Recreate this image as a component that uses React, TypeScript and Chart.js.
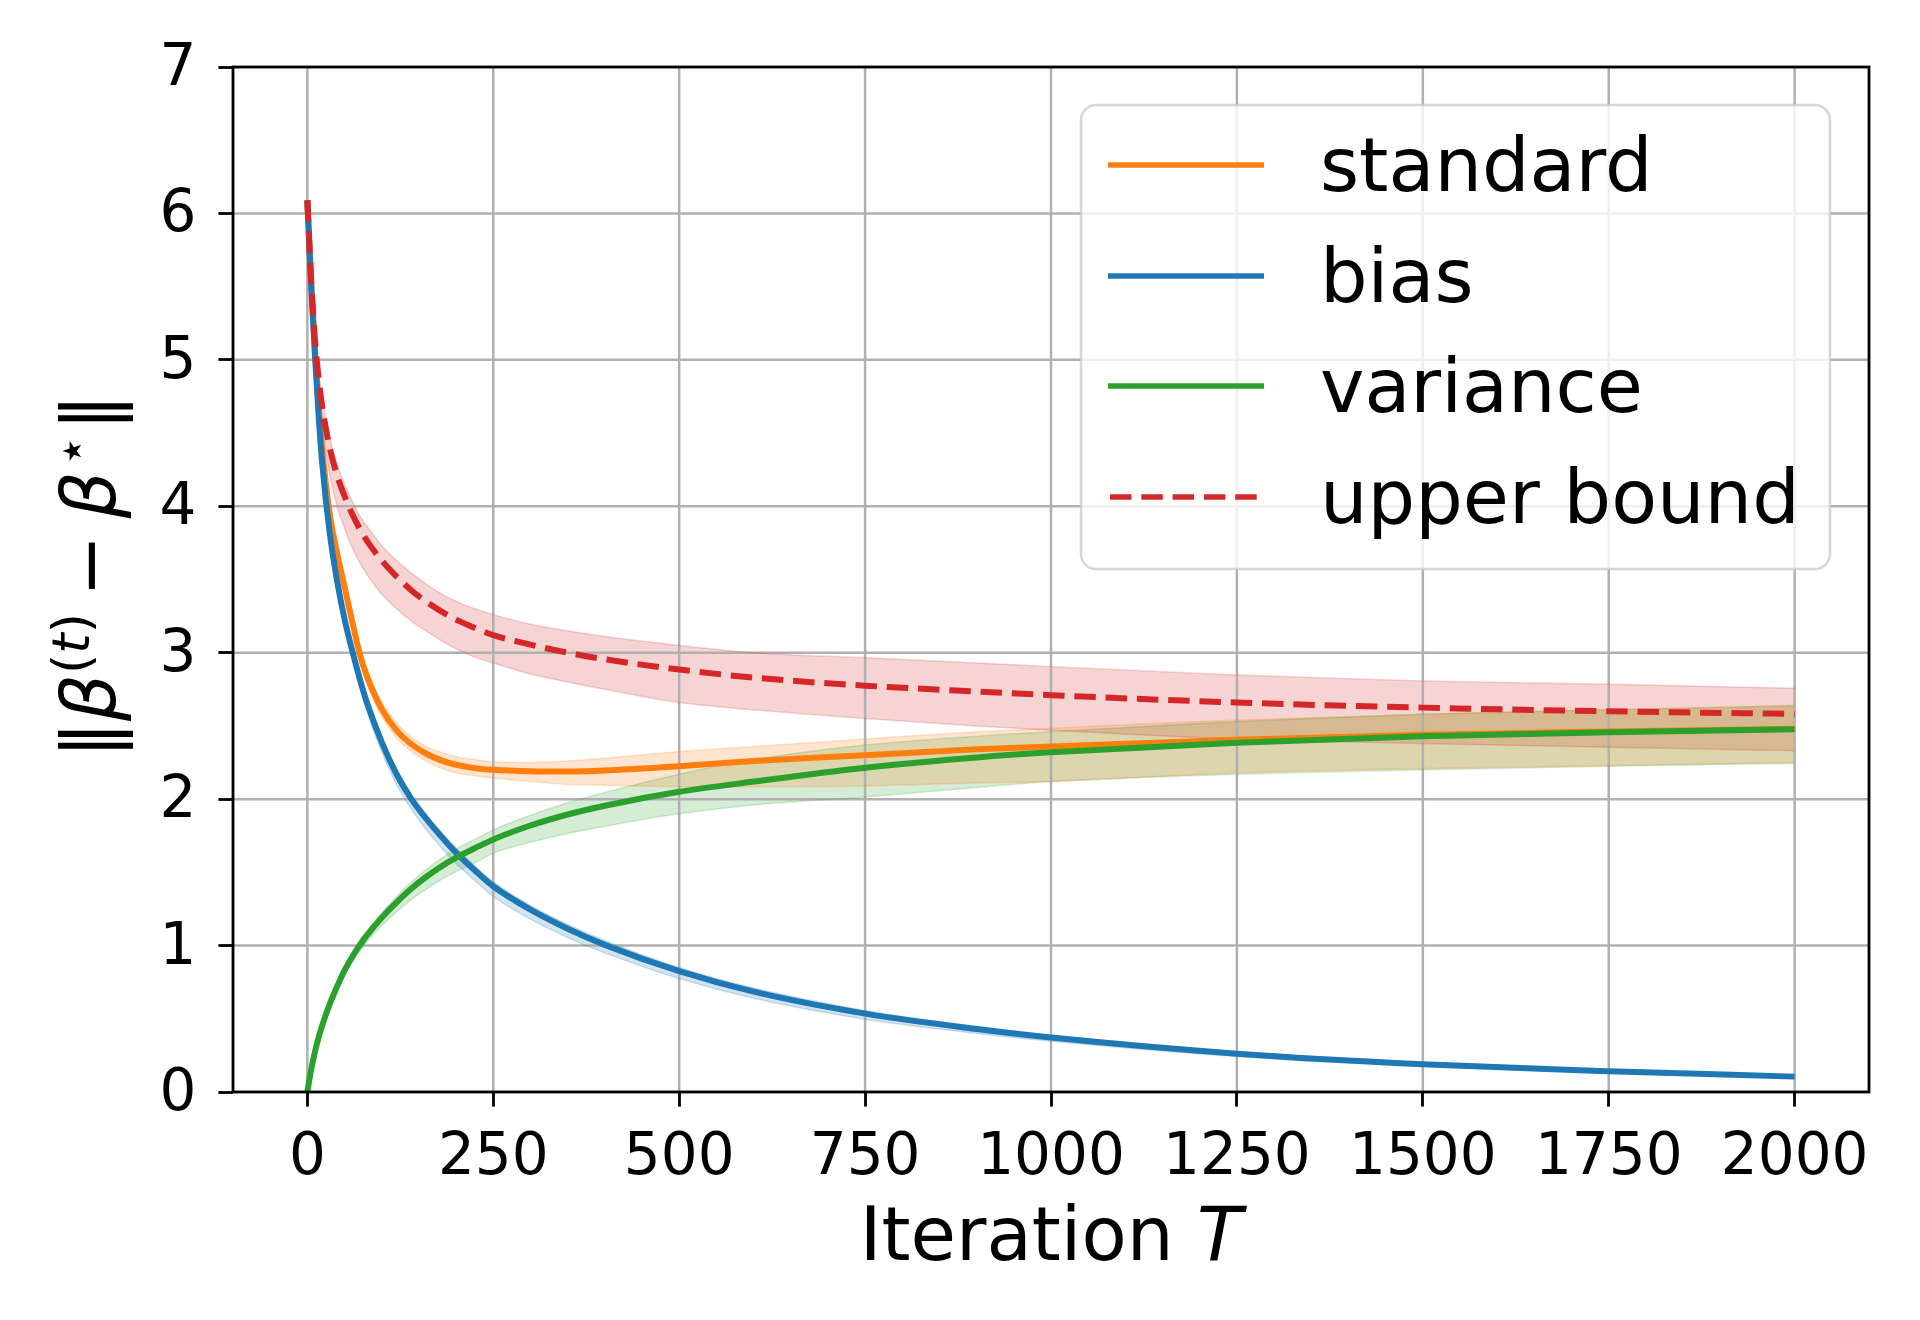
import React, { useEffect, useRef } from "react";
import { Chart, registerables } from "chart.js";

Chart.register(...registerables);

// ---------------- data ----------------
const iterations = [0, 5, 10, 15, 20, 30, 40, 50, 60, 70, 80, 100, 120, 140, 160, 180, 200, 225, 250, 300, 350, 400, 500, 600, 750, 900, 1000, 1250, 1500, 1750, 2000];

const standardMean = [6.09, 5.54, 5.09, 4.7, 4.39, 3.95, 3.68, 3.45, 3.22, 3.0, 2.84, 2.615, 2.47, 2.375, 2.31, 2.265, 2.235, 2.212, 2.2, 2.19, 2.188, 2.195, 2.225, 2.26, 2.3, 2.34, 2.36, 2.405, 2.44, 2.462, 2.48];
const standardUpper = [6.09, 5.56, 5.11, 4.73, 4.42, 3.99, 3.73, 3.5, 3.27, 3.05, 2.89, 2.665, 2.52, 2.425, 2.36, 2.32, 2.29, 2.27, 2.255, 2.25, 2.26, 2.28, 2.325, 2.36, 2.41, 2.46, 2.484, 2.54, 2.58, 2.61, 2.637];
const standardLower = [6.09, 5.52, 5.07, 4.67, 4.36, 3.91, 3.63, 3.4, 3.17, 2.95, 2.79, 2.565, 2.42, 2.325, 2.26, 2.21, 2.18, 2.16, 2.145, 2.12, 2.1, 2.095, 2.085, 2.085, 2.09, 2.11, 2.12, 2.18, 2.21, 2.23, 2.25];

const biasMean = [6.09, 5.52, 5.05, 4.63, 4.29, 3.82, 3.49, 3.23, 3.02, 2.83, 2.66, 2.39, 2.17, 2.0, 1.865, 1.745, 1.635, 1.515, 1.405, 1.245, 1.115, 1.005, 0.825, 0.685, 0.535, 0.43, 0.372, 0.262, 0.19, 0.142, 0.105];
const biasUpper = [6.09, 5.54, 5.07, 4.65, 4.32, 3.85, 3.52, 3.26, 3.05, 2.86, 2.69, 2.42, 2.2, 2.03, 1.895, 1.775, 1.665, 1.545, 1.435, 1.275, 1.145, 1.035, 0.85, 0.71, 0.557, 0.448, 0.388, 0.275, 0.2, 0.15, 0.112];
const biasLower = [6.09, 5.5, 5.02, 4.6, 4.25, 3.77, 3.44, 3.18, 2.97, 2.78, 2.6, 2.32, 2.1, 1.93, 1.79, 1.67, 1.56, 1.445, 1.335, 1.18, 1.055, 0.95, 0.775, 0.64, 0.497, 0.4, 0.347, 0.242, 0.175, 0.132, 0.098];

const varianceMean = [0, 0.15, 0.27, 0.37, 0.455, 0.6, 0.72, 0.83, 0.92, 1.0, 1.07, 1.19, 1.295, 1.39, 1.47, 1.54, 1.6, 1.665, 1.725, 1.82, 1.895, 1.955, 2.05, 2.12, 2.215, 2.285, 2.32, 2.385, 2.43, 2.457, 2.477];
const varianceUpper = [0, 0.16, 0.28, 0.38, 0.47, 0.615, 0.74, 0.85, 0.945, 1.03, 1.1, 1.225, 1.335, 1.435, 1.52, 1.595, 1.66, 1.725, 1.79, 1.89, 1.975, 2.045, 2.17, 2.27, 2.37, 2.43, 2.46, 2.53, 2.58, 2.61, 2.64];
const varianceLower = [0, 0.14, 0.26, 0.36, 0.44, 0.58, 0.695, 0.8, 0.885, 0.96, 1.025, 1.135, 1.23, 1.315, 1.385, 1.45, 1.505, 1.565, 1.63, 1.705, 1.765, 1.815, 1.9, 1.96, 2.015, 2.08, 2.12, 2.17, 2.2, 2.225, 2.245];

const upperBoundMean = [6.09, 5.55, 5.15, 4.88, 4.68, 4.4, 4.21, 4.07, 3.95, 3.85, 3.765, 3.63, 3.52, 3.425, 3.348, 3.282, 3.226, 3.17, 3.12, 3.055, 3.0, 2.955, 2.885, 2.83, 2.775, 2.735, 2.71, 2.66, 2.625, 2.6, 2.582];
const upperBoundUpper = [6.09, 5.58, 5.19, 4.93, 4.74, 4.47, 4.29, 4.15, 4.04, 3.94, 3.865, 3.73, 3.63, 3.545, 3.468, 3.402, 3.351, 3.3, 3.26, 3.195, 3.15, 3.11, 3.05, 3.0, 2.965, 2.93, 2.905, 2.848, 2.807, 2.785, 2.757];
const upperBoundLower = [6.09, 5.5, 5.07, 4.77, 4.54, 4.22, 4.0, 3.85, 3.72, 3.62, 3.535, 3.4, 3.3, 3.215, 3.148, 3.082, 3.026, 2.97, 2.93, 2.855, 2.8, 2.75, 2.66, 2.61, 2.55, 2.5, 2.47, 2.41, 2.38, 2.355, 2.331];

const xTickValues = [0, 250, 500, 750, 1000, 1250, 1500, 1750, 2000];
const yTickValues = [0, 1, 2, 3, 4, 5, 6, 7];
const legendLabels = ["standard", "bias", "variance", "upper bound"];
const xTitleText = "Iteration ";
const xTitleItalic = "T";

// ---------------- styles ----------------
const COLOR_STANDARD = "#ff7f0e";
const COLOR_BIAS = "#1f77b4";
const COLOR_VARIANCE = "#2ca02c";
const COLOR_UPPER = "#d62728";
const LEGEND_COLORS = [COLOR_STANDARD, COLOR_BIAS, COLOR_VARIANCE, COLOR_UPPER];
const LEGEND_DASHED = [false, false, false, true];

const FONT = '"DejaVu Sans"';
const LINE_W = 6;
const DASH = [21.5, 9.8];

function rgba(hex: string, a: number) {
  const n = parseInt(hex.slice(1), 16);
  return `rgba(${(n >> 16) & 255},${(n >> 8) & 255},${n & 255},${a})`;
}

const pts = (ys: number[]) => iterations.map((t, i) => ({ x: t, y: ys[i] }));

const bgPlugin = {
  id: "bgWhite",
  beforeDraw(chart: any) {
    const ctx = chart.ctx;
    ctx.save();
    ctx.fillStyle = "#ffffff";
    ctx.fillRect(0, 0, chart.width, chart.height);
    ctx.restore();
  },
};

const gridPlugin = {
  id: "mplGrid",
  beforeDatasetsDraw(chart: any) {
    const { ctx, chartArea: a, scales } = chart;
    const xs = scales.x;
    const ys = scales.y;
    ctx.save();
    ctx.beginPath();
    ctx.rect(a.left, a.top, a.right - a.left, a.bottom - a.top);
    ctx.clip();
    ctx.strokeStyle = "#b0b0b0";
    ctx.lineWidth = 2.5;
    for (const v of xTickValues) {
      const px = xs.getPixelForValue(v);
      ctx.beginPath();
      ctx.moveTo(px, a.top);
      ctx.lineTo(px, a.bottom);
      ctx.stroke();
    }
    for (const v of yTickValues) {
      const py = ys.getPixelForValue(v);
      ctx.beginPath();
      ctx.moveTo(a.left, py);
      ctx.lineTo(a.right, py);
      ctx.stroke();
    }
    ctx.restore();
  },
};

const spinesPlugin = {
  id: "mplSpines",
  afterDatasetsDraw(chart: any) {
    const { ctx, chartArea: a } = chart;
    ctx.save();
    ctx.strokeStyle = "#000";
    ctx.lineWidth = 2.8;
    ctx.strokeRect(a.left, a.top, a.right - a.left, a.bottom - a.top);
    ctx.restore();
  },
};

const decorPlugin = {
  id: "mplDecor",
  afterDraw(chart: any) {
    const { ctx, chartArea: a } = chart;
    ctx.save();
    // ---- x title ----
    const fs = 74;
    ctx.fillStyle = "#000";
    ctx.textBaseline = "alphabetic";
    ctx.textAlign = "left";
    ctx.font = `${fs}px ${FONT}`;
    const w1 = ctx.measureText(xTitleText).width;
    ctx.font = `italic ${fs}px ${FONT}`;
    const w2 = ctx.measureText(xTitleItalic).width;
    const cx = (a.left + a.right) / 2;
    const startX = cx - (w1 + w2) / 2;
    ctx.font = `${fs}px ${FONT}`;
    ctx.fillText(xTitleText, startX, 1260);
    ctx.font = `italic ${fs}px ${FONT}`;
    ctx.fillText(xTitleItalic, startX + w1, 1260);

    // ---- y title: ||beta^(t) - beta^*|| ----
    const sup = Math.round(fs * 0.7);
    const raise = 26;
    const pieces: { t: string; italic?: boolean; sup?: boolean; padL?: number; padR?: number }[] = [
      { t: "\u2016" },
      { t: "\u03b2", italic: true },
      { t: "(", sup: true },
      { t: "t", sup: true, italic: true },
      { t: ")", sup: true },
      { t: "\u2212", padL: fs * 0.22, padR: fs * 0.22 },
      { t: "\u03b2", italic: true },
      { t: "\u22c6", sup: true, padL: 4 },
      { t: "\u2016", padL: 4 },
    ];
    const fontOf = (p: any) => `${p.italic ? "italic " : ""}${p.sup ? sup : fs}px ${FONT}`;
    let total = 0;
    const widths: number[] = [];
    for (const p of pieces) {
      ctx.font = fontOf(p);
      const w = ctx.measureText(p.t).width;
      widths.push(w);
      total += (p.padL || 0) + w + (p.padR || 0);
    }
    const baseX = 115;
    const cy = 576;
    ctx.translate(baseX, cy);
    ctx.rotate(-Math.PI / 2);
    let pos = -total / 2;
    pieces.forEach((p, i) => {
      ctx.font = fontOf(p);
      pos += p.padL || 0;
      ctx.fillText(p.t, pos, p.sup ? -raise : 0);
      pos += widths[i] + (p.padR || 0);
    });
    ctx.setTransform(1, 0, 0, 1, 0, 0);

    // ---- legend ----
    const lfs = 75;
    ctx.beginPath();
    (ctx as any).roundRect(1081, 105, 749, 464, 15);
    ctx.fillStyle = "rgba(255,255,255,0.8)";
    ctx.fill();
    ctx.strokeStyle = "rgba(204,204,204,0.8)";
    ctx.lineWidth = 2.5;
    ctx.stroke();
    const rowY = [165, 276, 386, 497];
    legendLabels.forEach((lab, i) => {
      const y = rowY[i];
      ctx.beginPath();
      ctx.strokeStyle = LEGEND_COLORS[i];
      ctx.lineWidth = 5.5;
      ctx.setLineDash(LEGEND_DASHED[i] ? DASH : []);
      ctx.lineCap = "butt";
      ctx.moveTo(LEGEND_DASHED[i] ? 1110 : 1108, y);
      ctx.lineTo(1264, y);
      ctx.stroke();
      ctx.setLineDash([]);
      ctx.fillStyle = "#000";
      ctx.font = `${lfs}px ${FONT}`;
      ctx.textAlign = "left";
      ctx.textBaseline = "alphabetic";
      ctx.fillText(lab, 1320, y + 26);
    });
    ctx.restore();
  },
};

function lineDs(label: string, data: number[], color: string, order: number, dashed = false) {
  return {
    label,
    data: pts(data),
    borderColor: color,
    backgroundColor: color,
    borderWidth: LINE_W,
    borderDash: dashed ? DASH : [],
    pointRadius: 0,
    fill: false,
    cubicInterpolationMode: "monotone",
    order,
    borderJoinStyle: "round",
  };
}

function bandDs(label: string, data: number[], color: string, order: number, fillTarget: number | false) {
  return {
    label,
    data: pts(data),
    borderColor: rgba(color, 0.2),
    backgroundColor: rgba(color, 0.2),
    borderWidth: 1.5,
    pointRadius: 0,
    fill: fillTarget === false ? false : fillTarget,
    cubicInterpolationMode: "monotone",
    order,
  };
}

export default function App() {
  const ref = useRef<HTMLCanvasElement | null>(null);
  useEffect(() => {
    if (!ref.current) return;
    Chart.defaults.font.family = FONT;
    const datasets: any[] = [
      lineDs("upper bound", upperBoundMean, COLOR_UPPER, 1, true), // 0
      lineDs("variance", varianceMean, COLOR_VARIANCE, 2), // 1
      lineDs("bias", biasMean, COLOR_BIAS, 3), // 2
      lineDs("standard", standardMean, COLOR_STANDARD, 4), // 3
      bandDs("standard hi", standardUpper, COLOR_STANDARD, 10, 5), // 4
      bandDs("standard lo", standardLower, COLOR_STANDARD, 11, false), // 5
      bandDs("bias hi", biasUpper, COLOR_BIAS, 12, 7), // 6
      bandDs("bias lo", biasLower, COLOR_BIAS, 13, false), // 7
      bandDs("variance hi", varianceUpper, COLOR_VARIANCE, 14, 9), // 8
      bandDs("variance lo", varianceLower, COLOR_VARIANCE, 15, false), // 9
      bandDs("upper hi", upperBoundUpper, COLOR_UPPER, 16, 11), // 10
      bandDs("upper lo", upperBoundLower, COLOR_UPPER, 17, false), // 11
    ];
    const chart = new Chart(ref.current, {
      type: "line",
      data: { datasets },
      options: {
        responsive: false,
        devicePixelRatio: 1,
        animation: false,
        layout: { padding: { top: 67, right: 51, left: 0, bottom: 0 } },
        plugins: {
          legend: { display: false },
          tooltip: { enabled: false },
          filler: { drawTime: "beforeDatasetsDraw", propagate: false },
        } as any,
        scales: {
          x: {
            type: "linear",
            min: -100,
            max: 2100,
            afterBuildTicks: (s: any) => {
              s.ticks = xTickValues.map((v) => ({ value: v }));
            },
            afterFit: (s: any) => {
              s.height = 228;
            },
            grid: {
              display: true,
              drawOnChartArea: false,
              drawTicks: true,
              tickLength: 14.6,
              tickColor: "#000",
              tickWidth: 2.8,
            } as any,
            border: { display: false },
            ticks: {
              color: "#000",
              font: { family: FONT, size: 58 },
              padding: 18,
              maxRotation: 0,
              autoSkip: false,
              callback: (v: any) => String(v),
            },
          },
          y: {
            type: "linear",
            min: 0,
            max: 7,
            afterBuildTicks: (s: any) => {
              s.ticks = yTickValues.map((v) => ({ value: v }));
            },
            afterFit: (s: any) => {
              s.width = 233;
            },
            grid: {
              display: true,
              drawOnChartArea: false,
              drawTicks: true,
              tickLength: 14.6,
              tickColor: "#000",
              tickWidth: 2.8,
            } as any,
            border: { display: false },
            ticks: {
              color: "#000",
              font: { family: FONT, size: 58 },
              padding: 22,
              labelOffset: 3,
              autoSkip: false,
              callback: (v: any) => String(v),
            },
          },
        },
      } as any,
      plugins: [bgPlugin, gridPlugin, spinesPlugin, decorPlugin],
    });
    return () => chart.destroy();
  }, []);
  return (
    <div style={{ position: "absolute", left: 0, top: 0, width: 1920, height: 1320, background: "#fff" }}>
      <canvas ref={ref} width={1920} height={1320} style={{ display: "block", width: 1920, height: 1320 }} />
    </div>
  );
}
